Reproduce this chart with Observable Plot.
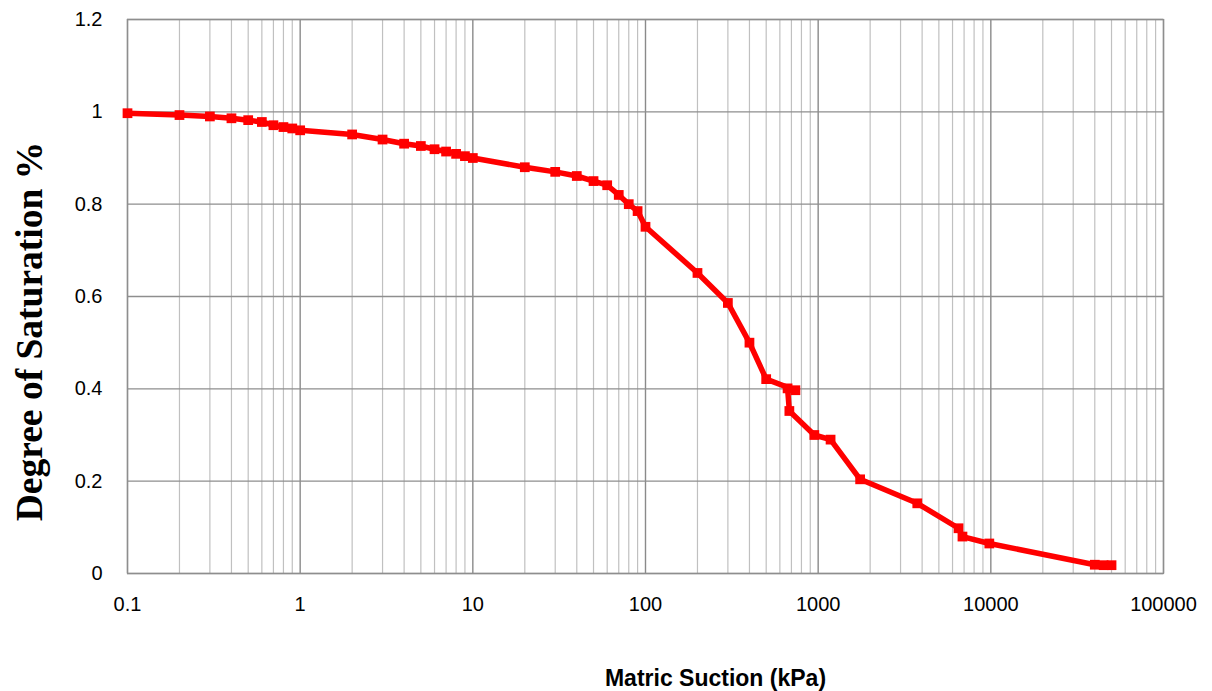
<!DOCTYPE html>
<html>
<head>
<meta charset="utf-8">
<script src="https://cdn.jsdelivr.net/npm/d3@7"></script>
<script src="https://cdn.jsdelivr.net/npm/@observablehq/plot@0.6"></script>
<style>
  html, body { margin: 0; padding: 0; background: #fff; }
  #chart svg { display: block; }
</style>
</head>
<body>
<div id="chart"></div>
<script>
// Soil-water characteristic curve: matric suction (kPa) vs degree of saturation
const suction = [
  0.1, 0.2, 0.3, 0.4, 0.5, 0.6, 0.7, 0.8, 0.9, 1,
  2, 3, 4, 5, 6, 7, 8, 9, 10,
  20, 30, 40, 50, 60, 70, 80, 90, 100,
  200, 300, 400, 500, 738, 665, 681,
  950, 1180, 1750, 3750, 6500, 6850, 9800,
  40000, 45000, 50000
];
const saturation = [
  0.997, 0.993, 0.990, 0.986, 0.982, 0.978, 0.971, 0.967, 0.964, 0.960,
  0.951, 0.940, 0.931, 0.926, 0.919, 0.914, 0.909, 0.904, 0.900,
  0.880, 0.870, 0.861, 0.850, 0.841, 0.820, 0.800, 0.785, 0.751,
  0.651, 0.586, 0.500, 0.421, 0.397, 0.401, 0.352,
  0.300, 0.290, 0.204, 0.152, 0.098, 0.080, 0.065,
  0.019, 0.018, 0.018
];

const xMajorTicks = [0.1, 1, 10, 100, 1000, 10000, 100000];
const xMinorMultiples = [2, 3, 4, 5, 6, 7, 8, 9];
const yTicks = [0, 0.2, 0.4, 0.6, 0.8, 1, 1.2];

const xMinorTicks = xMajorTicks.slice(0, -1)
  .flatMap(d => xMinorMultiples.map(m => +(d * m).toPrecision(3)));

const points = suction.map((s, i) => ({suction: s, saturation: saturation[i]}));

const tickFont = "'Liberation Sans', Arial, sans-serif";

const chart = Plot.plot({
  width: 1212,
  height: 691,
  marginLeft: 127,
  marginRight: 49,
  marginTop: 19,
  marginBottom: 118,
  style: {background: "#fff", fontFamily: tickFont, color: "#000", overflow: "visible"},
  x: {type: "log", domain: [0.1, 100000]},
  y: {domain: [0, 1.2]},
  marks: [
    Plot.ruleX(xMinorTicks, {stroke: "#c0c0c0", strokeWidth: 1.2}),
    Plot.ruleX(xMajorTicks, {stroke: "#8a8a8a", strokeWidth: 1.4}),
    Plot.ruleY(yTicks, {stroke: "#8e8e8e", strokeWidth: 1.3}),
    Plot.frame({stroke: "#8e8e8e", strokeWidth: 1.3}),
    Plot.axisX({
      ticks: xMajorTicks, tickSize: 0, tickPadding: 23,
      tickFormat: d => String(d), fontSize: 20, label: null
    }),
    Plot.axisY({
      ticks: yTicks, tickSize: 0, tickPadding: 25,
      tickFormat: d => String(d), fontSize: 20, label: null
    }),
    Plot.line(points, {x: "suction", y: "saturation", stroke: "#ff0000", strokeWidth: 5.5, strokeLinejoin: "round"}),
    Plot.dot(points, {x: "suction", y: "saturation", symbol: "square", r: 5.5, fill: "#ff0000"}),
    Plot.text(["Degree of Saturation %"], {
      frameAnchor: "left", rotate: -90, dx: -98, dy: 35,
      fontSize: 37.5, fontWeight: "bold", fontFamily: "'Liberation Serif', 'Times New Roman', serif",
      textAnchor: "middle", lineAnchor: "middle", fill: "#000"
    }),
    Plot.text(["Matric Suction (kPa)"], {
      frameAnchor: "bottom", dx: 70, dy: 105,
      fontSize: 23, fontWeight: "bold", fontFamily: tickFont,
      textAnchor: "middle", lineAnchor: "middle", fill: "#000"
    })
  ]
});

document.getElementById("chart").appendChild(chart);
</script>
</body>
</html>
